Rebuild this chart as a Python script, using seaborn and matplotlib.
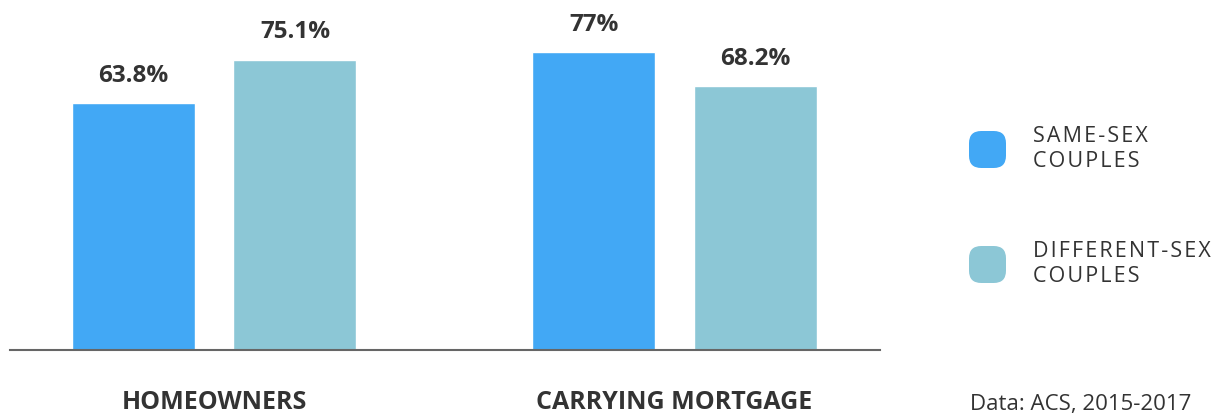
import pandas as pd
import matplotlib.pyplot as plt
import seaborn as sns
from matplotlib.patches import FancyBboxPatch

# values
categories = ["HOMEOWNERS", "CARRYING MORTGAGE"]
groups = ["SAME-SEX\nCOUPLES", "DIFFERENT-SEX\nCOUPLES"]
same_sex = [63.8, 77.0]
different_sex = [75.1, 68.2]
source = "Data: ACS, 2015-2017"

colors = ["#42a8f5", "#8cc7d6"]
text_col = "#333333"

df = pd.DataFrame({
    "category": categories * 2,
    "group": [groups[0]] * 2 + [groups[1]] * 2,
    "value": same_sex + different_sex,
})

sns.set_style("white")
plt.rcParams["font.family"] = ["Open Sans", "DejaVu Sans"]

fig = plt.figure(figsize=(12.25, 4.15), dpi=100)
ax = fig.add_axes([10 / 1225, 65 / 415, 870 / 1225, 348 / 415])

sns.barplot(data=df, x="category", y="value", hue="group", order=categories,
            hue_order=groups, palette=colors, width=0.703, gap=0.24,
            saturation=1, legend=False, ax=ax)

# percent labels above bars
for cont in ax.containers:
    for bar in cont:
        v = bar.get_height()
        ax.annotate(f"{v:g}%", (bar.get_x() + bar.get_width() / 2, v),
                    xytext=(0, 11), textcoords="offset points",
                    ha="center", va="bottom", fontsize=17.5, fontweight="bold",
                    color=text_col)

ax.set_xlim(-0.443, 1.446)
ax.set_ylim(0, 90)
ax.set_xlabel("")
ax.set_ylabel("")
ax.set_yticks([])
ax.tick_params(axis="x", length=0, pad=29, labelsize=18, labelcolor=text_col)
for lab in ax.get_xticklabels():
    lab.set_fontweight("bold")
sns.despine(ax=ax, left=True)
ax.spines["bottom"].set_color("#666666")
ax.spines["bottom"].set_linewidth(1.5)


def spaced(s):
    # wide tracking like the original legend
    return "\n".join("\u200a".join(line) for line in s.split("\n"))


# legend on the right, rounded squares
W, H = 1225, 415
for i, (g, c) in enumerate(zip(groups, colors)):
    top = 131 + i * 115
    box = FancyBboxPatch((969 / W, 1 - (top + 37) / H), 37 / W, 37 / H,
                         boxstyle="round,pad=0,rounding_size=0.01",
                         transform=fig.transFigure, facecolor=c,
                         edgecolor="none", mutation_aspect=W / H)
    fig.patches.append(box)
    fig.text(1033 / W, 1 - (top + 18) / H, spaced(g), ha="left", va="center",
             fontsize=15.5, color=text_col, linespacing=1.22)

fig.text(970 / W, 1 - 404 / H, source, ha="left", va="center",
         fontsize=16, color=text_col)

fig.savefig("out.png", dpi=100)
